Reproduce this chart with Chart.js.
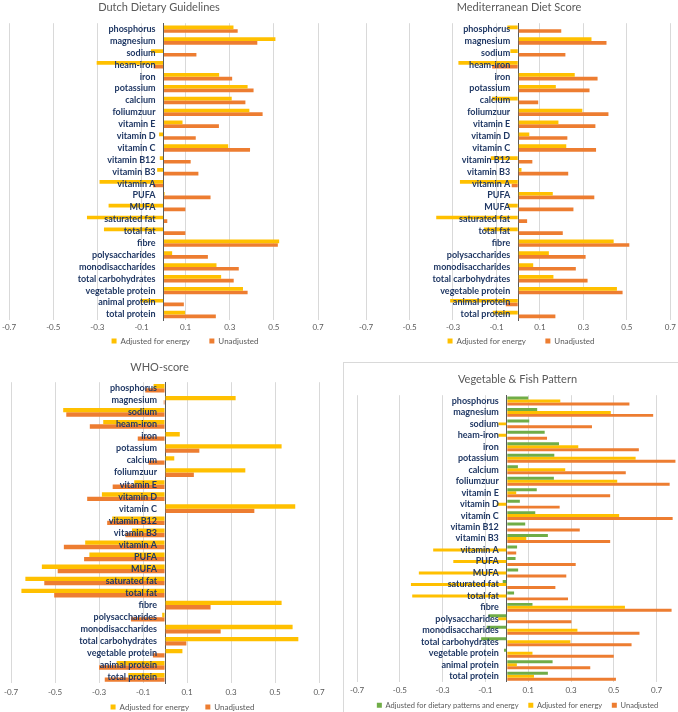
<!DOCTYPE html>
<html>
<head>
<meta charset="utf-8">
<script src="https://cdn.jsdelivr.net/npm/chart.js@4/dist/chart.umd.min.js"></script>
<style>
  body { margin:0; background:#fff; width:678px; height:712px; position:relative; overflow:hidden; }
  .panel { position:absolute; }
  #p1 { left:0; top:0; width:339px; height:355px; }
  #p2 { left:339px; top:0; width:339px; height:355px; }
  #p3 { left:0; top:355px; width:339px; height:374px; }
  #p4 { left:339px; top:355px; width:339px; height:372px; }
  #frame4 { position:absolute; left:343px; top:362px; width:340px; height:360px; border:1px solid #D9D9D9; box-sizing:border-box; }
</style>
</head>
<body>
<div id="frame4"></div>
<div class="panel" id="p1"><canvas id="c1"></canvas></div>
<div class="panel" id="p2"><canvas id="c2"></canvas></div>
<div class="panel" id="p3"><canvas id="c3"></canvas></div>
<div class="panel" id="p4"><canvas id="c4"></canvas></div>
<script>
  // nutrient categories (top to bottom)
  const nutrients = ['phosphorus','magnesium','sodium','heam-iron','iron','potassium','calcium','foliumzuur',
    'vitamin E','vitamin D','vitamin C','vitamin B12','vitamin B3','vitamin A','PUFA','MUFA','saturated fat',
    'total fat','fibre','polysaccharides','monodisaccharides','total carbohydrates','vegetable protein',
    'animal protein','total protein'];

  const xTicks = [-0.7, -0.5, -0.3, -0.1, 0, 0.1, 0.3, 0.5, 0.7];

  // Dutch Dietary Guidelines
  const dutchAdj   = [0.317, 0.507, -0.057, -0.303, 0.252, 0.381, 0.309, 0.389, 0.086, -0.020, 0.293, -0.017, -0.029,
                      -0.290, 0.005, -0.249, -0.347, -0.270, 0.524, 0.039, 0.240, 0.261, 0.360, -0.105, 0.098];
  const dutchUnadj = [0.336, 0.425, 0.149, -0.045, 0.311, 0.408, 0.371, 0.449, 0.251, 0.146, 0.392, 0.123, 0.158,
                      -0.048, 0.213, 0.099, 0.017, 0.099, 0.518, 0.201, 0.341, 0.318, 0.381, 0.092, 0.237];

  // Mediterranean Diet Score
  const medAdj   = [-0.050, 0.337, -0.036, -0.275, 0.260, 0.173, -0.120, 0.295, 0.185, 0.051, 0.221, -0.126, 0.015,
                    -0.268, 0.159, -0.050, -0.377, -0.158, 0.439, 0.141, 0.069, 0.162, 0.454, -0.313, -0.117];
  const medUnadj = [0.198, 0.406, 0.217, -0.120, 0.365, 0.328, 0.092, 0.415, 0.355, 0.226, 0.358, 0.065, 0.230,
                    -0.030, 0.350, 0.254, 0.041, 0.205, 0.511, 0.310, 0.265, 0.319, 0.480, -0.057, 0.171];

  // WHO-score
  const whoAdj   = [-0.052, 0.321, -0.463, -0.281, 0.067, 0.530, 0.042, 0.365, -0.140, -0.287, 0.592, -0.240, -0.150,
                    -0.363, -0.344, -0.560, -0.635, -0.653, 0.530, -0.013, 0.580, 0.606, 0.079, -0.220, -0.167];
  const whoUnadj = [-0.090, -0.006, -0.449, -0.342, -0.124, 0.156, -0.075, 0.131, -0.238, -0.354, 0.406, -0.263, -0.180,
                    -0.460, -0.368, -0.488, -0.549, -0.504, 0.207, -0.155, 0.253, 0.097, -0.055, -0.300, -0.274];

  // Vegetable & Fish Pattern
  const vegPattern = [0.100, 0.142, 0.105, 0.177, 0.244, 0.222, 0.052, 0.220, 0.140, 0.061, 0.133, 0.086, 0.192,
                      0.048, 0.041, 0.053, -0.019, 0.034, 0.120, -0.086, -0.094, -0.120, -0.013, 0.214, 0.192];
  const vegAdj     = [0.250, 0.486, -0.039, -0.039, 0.334, 0.602, 0.273, 0.516, 0.044, -0.047, 0.525, 0.000, 0.091,
                      -0.344, -0.250, -0.411, -0.448, -0.442, 0.552, -0.040, 0.330, 0.297, 0.120, 0.047, 0.127];
  const vegUnadj   = [0.573, 0.684, 0.398, 0.188, 0.617, 0.788, 0.556, 0.761, 0.483, 0.247, 0.775, 0.341, 0.483,
                      0.044, 0.322, 0.278, 0.227, 0.286, 0.770, 0.302, 0.620, 0.583, 0.500, 0.390, 0.510];

  const YELLOW = '#FFC000', ORANGE = '#ED7D31', GREEN = '#70AD47';
  const FONT = 'Lato, "Open Sans", sans-serif';

  // category names drawn right-aligned against the zero line, on top of the bars
  const zeroLabels = {
    id: 'zeroLabels',
    afterDatasetsDraw(chart){
      const { ctx, scales: { x, y } } = chart;
      const x0 = x.getPixelForValue(0) - 8;
      ctx.save();
      ctx.font = 'bold 9px ' + FONT;
      ctx.fillStyle = '#203864';
      ctx.textAlign = 'right';
      ctx.textBaseline = 'middle';
      chart.data.labels.forEach((lab, i) => ctx.fillText(lab, x0, y.getPixelForValue(i)));
      ctx.restore();
    }
  };

  // nudge the legend sideways (Excel placed it off-centre)
  const legendShift = {
    id: 'legendShift',
    afterLayout(chart, args, opts){
      const lg = chart.legend;
      if (lg && opts.dx){ lg.left += opts.dx; lg.right += opts.dx; }
    }
  };

  function makePanel(id, title, datasets, o){
    const ctx = document.getElementById(id);
    return new Chart(ctx, {
      type: 'bar',
      data: { labels: nutrients, datasets: datasets.map(d => ({
        label: d[0], data: d[1], backgroundColor: d[2], borderWidth: 0,
        categoryPercentage: o.cat, barPercentage: 1
      })) },
      options: {
        indexAxis: 'y', responsive: true, maintainAspectRatio: false, animation: false,
        layout: { padding: o.pad },
        plugins: {
          title: { display: true, text: title, color: '#595959', font: { family: FONT, size: 11, weight: 'normal' },
                   padding: o.titlePad },
          legend: { position: 'bottom',
                    labels: { color: '#595959', font: { family: FONT, size: o.legendFont || 8 },
                              boxWidth: 5, boxHeight: 5, padding: o.legendGap,
                              generateLabels: chart => Chart.defaults.plugins.legend.labels.generateLabels(chart)
                                .map((it, i, arr) => { if (i < arr.length - 1) it.text += ' '.repeat(o.spaces); return it; }) } },
          legendShift: { dx: o.legendDx || 0 },
          tooltip: { enabled: false }
        },
        scales: {
          x: {
            min: -0.7, max: o.xMax || 0.7,
            afterBuildTicks: s => { s.ticks = xTicks.map(v => ({ value: v })); },
            grid: { color: c => c.tick && c.tick.value === 0 ? 'rgba(0,0,0,0)' : '#D9D9D9', drawTicks: false },
            border: { display: false },
            ticks: { color: '#595959', font: { family: FONT, size: 8 }, padding: o.tickPad,
                     callback: v => v === 0 ? '' : v.toFixed(1) }
          },
          y: {
            position: { x: 0 },
            grid: { display: false, drawTicks: false },
            border: { display: true, color: '#595959', width: 1 },
            ticks: { display: false }
          }
        }
      },
      plugins: [zeroLabels, legendShift]
    });
  }

  makePanel('c1', 'Dutch Dietary Guidelines',
    [['Adjusted for energy', dutchAdj, YELLOW], ['Unadjusted', dutchUnadj, ORANGE]],
    { cat: 0.62, pad: { left: 0, right: 21, top: 0, bottom: 0 }, titlePad: { top: 1, bottom: 9 },
      tickPad: 2, legendGap: 3, spaces: 8, legendDx: 26 });

  makePanel('c2', 'Mediterranean Diet Score',
    [['Adjusted for energy', medAdj, YELLOW], ['Unadjusted', medUnadj, ORANGE]],
    { cat: 0.62, pad: { left: 27, right: 6, top: 0, bottom: 0 }, titlePad: { top: 1, bottom: 9 },
      tickPad: 2, legendGap: 3, spaces: 8, legendDx: 2 });

  makePanel('c3', 'WHO-score',
    [['Adjusted for energy', whoAdj, YELLOW], ['Unadjusted', whoUnadj, ORANGE]],
    { cat: 0.72, pad: { left: 0, right: 20, top: 0, bottom: 8 }, titlePad: { top: 6, bottom: 8 },
      tickPad: 4, legendGap: 2, spaces: 7, legendDx: 23 });

  makePanel('c4', 'Vegetable & Fish Pattern',
    [['Adjusted for dietary patterns and energy', vegPattern, GREEN], ['Adjusted for energy', vegAdj, YELLOW],
     ['Unadjusted', vegUnadj, ORANGE]],
    { cat: 0.78, xMax: 0.8, pad: { left: 18, right: 0, top: 0, bottom: 8 }, titlePad: { top: 18, bottom: 9 },
      tickPad: 4, legendGap: 2, spaces: 4, legendFont: 7.5 });
</script>
</body>
</html>
